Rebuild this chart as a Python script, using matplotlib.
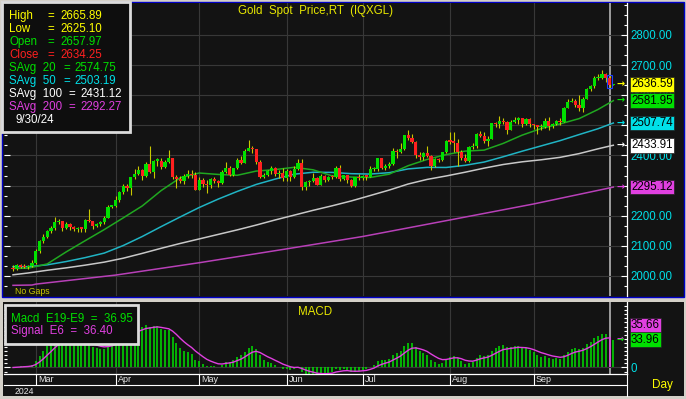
import numpy as np
import pandas as pd
import matplotlib
matplotlib.use('Agg')
import matplotlib.pyplot as plt
from matplotlib.patches import Rectangle
from matplotlib.ticker import MultipleLocator, FixedLocator

plt.rcParams['font.family'] = ['Liberation Sans', 'DejaVu Sans']

# daily bars 22 Feb - 1 Oct 2024 (1 Oct is the live bar right of the cursor)
dates = pd.bdate_range('2024-02-22', '2024-10-01')

opens = [2025, 2024, 2035, 2031, 2030, 2034,
         2044, 2083, 2115, 2128, 2148, 2159, 2179, 2182, 2158, 2174, 2162, 2155, 2160, 2157, 2186, 2181, 2165, 2172, 2178, 2194, 2230,
         2232, 2251, 2280, 2300, 2291, 2330, 2339, 2352, 2333, 2373, 2344, 2383, 2383, 2361, 2379, 2392, 2327, 2322, 2316, 2332, 2337, 2336,
         2286, 2320, 2304, 2301, 2323, 2314, 2309, 2346, 2360, 2336, 2358, 2386, 2376, 2415, 2425, 2421, 2379, 2329, 2334, 2350, 2360, 2338, 2343,
         2326, 2350, 2327, 2355, 2375, 2294, 2311, 2316, 2324, 2303, 2333, 2319, 2330, 2328, 2360, 2322, 2334, 2319, 2298, 2327,
         2326, 2332, 2330, 2356, 2356, 2392, 2359, 2364, 2371, 2415, 2411, 2422, 2469, 2459, 2445, 2400, 2396, 2409, 2398, 2364, 2387, 2384, 2410,
         2448, 2446, 2443, 2410, 2390, 2383, 2427, 2431, 2472, 2465, 2447, 2456, 2507, 2504, 2514, 2512, 2484, 2512, 2518, 2524, 2504, 2521,
         2503, 2500, 2493, 2495, 2516, 2497, 2506, 2516, 2512, 2558, 2578, 2582, 2569, 2559, 2587, 2622, 2629, 2657, 2657, 2672, 2657.97,
         2634.25]
highs = [2035, 2041, 2041, 2040, 2037, 2052,
         2088, 2119, 2141, 2152, 2165, 2195, 2189, 2184, 2180, 2175, 2167, 2164, 2163, 2188, 2222, 2184, 2177, 2184, 2198, 2235, 2236,
         2266, 2283, 2305, 2305, 2330, 2354, 2365, 2354, 2378, 2431, 2384, 2392, 2392, 2385, 2418, 2392, 2334, 2333, 2338, 2352, 2353, 2346,
         2327, 2326, 2319, 2326, 2327, 2318, 2351, 2378, 2364, 2359, 2392, 2398, 2422, 2450, 2432, 2423, 2385, 2342, 2352, 2364, 2361, 2351, 2360,
         2354, 2353, 2364, 2388, 2387, 2316, 2318, 2342, 2327, 2337, 2335, 2333, 2335, 2365, 2368, 2335, 2335, 2323, 2330, 2339,
         2336, 2335, 2365, 2363, 2393, 2393, 2372, 2380, 2425, 2423, 2440, 2469, 2483, 2471, 2447, 2412, 2412, 2431, 2402, 2390, 2393, 2413, 2451,
         2477, 2477, 2456, 2418, 2405, 2431, 2441, 2474, 2480, 2477, 2464, 2509, 2511, 2531, 2525, 2515, 2518, 2527, 2528, 2526, 2524, 2525,
         2505, 2502, 2503, 2523, 2529, 2507, 2517, 2525, 2560, 2586, 2590, 2589, 2600, 2595, 2625, 2634, 2664, 2670, 2685, 2674, 2665.89,
         2637]
lows = [2015, 2020, 2026, 2025, 2024, 2031,
        2039, 2077, 2111, 2125, 2143, 2153, 2174, 2150, 2155, 2152, 2150, 2146, 2146, 2147, 2180, 2157, 2163, 2167, 2173, 2191, 2226,
        2228, 2246, 2273, 2281, 2268, 2321, 2336, 2319, 2329, 2342, 2324, 2366, 2354, 2359, 2375, 2321, 2291, 2310, 2305, 2326, 2324, 2285,
        2285, 2297, 2277, 2292, 2308, 2297, 2306, 2342, 2333, 2332, 2354, 2372, 2375, 2414, 2408, 2373, 2325, 2326, 2333, 2340, 2332, 2324, 2314,
        2314, 2316, 2325, 2352, 2287, 2287, 2298, 2312, 2301, 2303, 2311, 2314, 2323, 2326, 2316, 2317, 2310, 2294, 2295, 2318,
        2318, 2319, 2327, 2350, 2350, 2354, 2353, 2359, 2369, 2393, 2409, 2417, 2451, 2440, 2393, 2385, 2386, 2395, 2353, 2363, 2377, 2382, 2408,
        2437, 2410, 2364, 2385, 2378, 2380, 2420, 2426, 2460, 2441, 2431, 2454, 2493, 2492, 2505, 2470, 2483, 2508, 2506, 2494, 2500, 2493,
        2489, 2472, 2484, 2491, 2485, 2492, 2500, 2500, 2510, 2556, 2576, 2561, 2546, 2545, 2586, 2613, 2624, 2651, 2655, 2643, 2625.10,
        2633]
closes = [2024, 2035, 2031, 2030, 2034, 2044,
          2083, 2115, 2128, 2148, 2159, 2179, 2182, 2158, 2174, 2162, 2155, 2160, 2157, 2186, 2181, 2165, 2172, 2178, 2194, 2230, 2232,
          2251, 2280, 2300, 2291, 2330, 2339, 2352, 2333, 2373, 2344, 2383, 2383, 2361, 2379, 2392, 2327, 2322, 2316, 2332, 2337, 2336, 2286,
          2320, 2304, 2301, 2323, 2314, 2309, 2346, 2360, 2336, 2358, 2386, 2376, 2415, 2425, 2421, 2379, 2329, 2334, 2350, 2360, 2338, 2343, 2326,
          2350, 2327, 2355, 2375, 2294, 2311, 2316, 2324, 2303, 2333, 2319, 2330, 2328, 2360, 2322, 2334, 2319, 2298, 2327, 2326,
          2332, 2330, 2356, 2356, 2392, 2359, 2364, 2371, 2415, 2411, 2422, 2469, 2459, 2445, 2400, 2396, 2409, 2398, 2364, 2387, 2384, 2410, 2448,
          2446, 2443, 2410, 2390, 2383, 2427, 2431, 2472, 2465, 2447, 2456, 2507, 2504, 2514, 2512, 2484, 2512, 2518, 2524, 2504, 2521, 2503,
          2500, 2493, 2495, 2516, 2497, 2506, 2516, 2512, 2558, 2578, 2582, 2569, 2559, 2587, 2622, 2629, 2657, 2657, 2672, 2658, 2634.25,
          2636.59]

ma_idx = [0, 4, 9, 14, 19, 24, 29, 34, 39, 44, 49, 54, 59, 64, 69, 74, 79, 84, 89, 94,
          99, 104, 109, 114, 119, 124, 129, 134, 139, 144, 149, 154, 157, 158]
savg20 = [2025, 2026, 2040, 2080, 2117.2, 2154.0, 2192.8, 2232.4, 2283.6, 2325.9, 2341.8, 2337.1,
          2334.2, 2348.2, 2353.2, 2360.7, 2352.4, 2332.3, 2328.4, 2326.9, 2338.0, 2366.1, 2386.9,
          2403.0, 2414.5, 2417.8, 2440.0, 2467.5, 2489.5, 2504.7, 2522.4, 2552.9, 2574.75, 2581.95]
savg50 = [2031, 2031, 2037, 2048, 2061, 2076, 2101, 2131, 2164, 2196, 2227.3, 2255.2,
          2280.6, 2303.8, 2321.7, 2337.9, 2344.4, 2343.8, 2339.6, 2338.3, 2342.9, 2355.4, 2360.6,
          2360.2, 2367.4, 2378.2, 2395.7, 2414.2, 2431.8, 2449.3, 2469.4, 2488.9, 2503.19, 2507.74]
savg100 = [2004, 2010, 2019, 2027, 2036, 2046, 2059, 2075, 2092, 2108, 2123, 2138,
           2153, 2169, 2186, 2202, 2218, 2233, 2249, 2267, 2285.1, 2305.3, 2320.6,
           2332.0, 2344.5, 2358.0, 2370.0, 2379.0, 2385.7, 2393.8, 2406.2, 2422.2, 2431.12, 2433.91]
ma200_idx = [0, 5, 6, 27, 49, 72, 92, 115, 137, 157, 158]
savg200 = [1969, 1970, 1973, 2003, 2044, 2090, 2131, 2186, 2239, 2292.27, 2295.12]

price_ticks = [2000, 2100, 2200, 2300, 2400, 2500, 2600, 2700, 2800]
hidden_ticks = [2300, 2500]   # these labels sit fully under the value tags
month_labels = ['Mar', 'Apr', 'May', 'Jun', 'Jul', 'Aug', 'Sep']

legend_names = ['High', 'Low', 'Open', 'Close', 'SAvg  20', 'SAvg  50', 'SAvg  100', 'SAvg  200']
legend_vals = [2665.89, 2625.10, 2657.97, 2634.25, 2574.75, 2503.19, 2431.12, 2292.27]
cursor_date = '9/30/24'
tag_vals = [2636.59, 2581.95, 2507.74, 2433.91, 2295.12]
macd_legend = [36.95, 36.40]
macd_tags = [35.66, 33.96]

# colours
BG = '#131313'
GRID = '#383838'
YEL = '#ffff00'
GRN = '#00e000'
RED = '#ff2020'
CYN = '#00e0e8'
WHT = '#ffffff'
MAG = '#e040e0'
WICK = '#c8c800'

W, H = 686, 399
fig = plt.figure(figsize=(W / 100, H / 100), dpi=100, facecolor='#d4d0c8')


def box(x0, y0, x1, y1):
    # pixel rectangle (origin top-left) -> figure fraction
    return [x0 / W, 1 - y1 / H, (x1 - x0) / W, (y1 - y0) / H]


bg = fig.add_axes([0, 0, 1, 1], zorder=0)
bg.set_xlim(0, W)
bg.set_ylim(H, 0)
bg.axis('off')
bg.add_patch(Rectangle((2, 2), 682, 295, fc=BG, ec='#0000c8', lw=1))
bg.add_patch(Rectangle((3, 302), 681, 94, fc=BG, ec='none'))
bg.plot([4, 627], [385, 385], color=WHT, lw=0.8)
bg.plot([627, 627], [374, 396], color=WHT, lw=0.8)

ax = fig.add_axes(box(4, 3, 627, 296), zorder=1)
mx = fig.add_axes(box(4, 302, 627, 374), zorder=1)
ov = fig.add_axes([0, 0, 1, 1], zorder=5)
ov.set_xlim(0, W)
ov.set_ylim(H, 0)
ov.axis('off')

x = np.arange(len(closes))
o = np.array(opens, dtype=float)
c = np.array(closes, dtype=float)
month_idx = [i for i in range(1, len(dates) - 1) if dates[i].month != dates[i - 1].month]

# ---------------- price panel ----------------
ax.set_facecolor(BG)
ax.set_xlim(-2.37, 161.6)
ax.set_ylim(1933.6, 2906.1)
ax.axvline(157, color='#a8a8a8', lw=1.3, zorder=1)
ax.plot(ma200_idx, savg200, color='#b840b8', lw=1.1, zorder=2)
ax.plot(ma_idx, savg100, color='#c8c8c8', lw=1.1, zorder=2)
ax.plot(ma_idx, savg50, color='#20b4c4', lw=1.1, zorder=2)
ax.plot(ma_idx, savg20, color='#20a820', lw=1.1, zorder=2)

ax.vlines(x, lows, highs, color=WICK, lw=0.8, zorder=3)
body_h = np.maximum(np.abs(c - o), 4)
ax.bar(x, body_h, bottom=np.minimum(o, c), width=0.86,
       color=np.where(c >= o, GRN, RED), lw=0, zorder=4)
ax.add_patch(Rectangle((156.45, lows[157]), 1.1, highs[157] - lows[157],
                       fill=False, ec='#2040ff', lw=0.8, zorder=5))

ax.set_xticks(month_idx)
ax.tick_params(axis='x', bottom=False, labelbottom=False)
ax.yaxis.set_major_locator(FixedLocator(price_ticks))
ax.yaxis.set_minor_locator(MultipleLocator(100 / 3))
ax.set_yticklabels(['' if v in hidden_ticks else f'{v:.2f}' for v in price_ticks])
ax.tick_params(axis='y', which='both', left=True, right=True, labelleft=False, labelright=True,
               direction='in', color=WHT, labelcolor=CYN, labelsize=8.3, pad=2.5)
ax.tick_params(axis='y', which='major', length=4.5, width=0.8)
ax.tick_params(axis='y', which='minor', length=2.5, width=0.8)
ax.grid(True, which='major', color=GRID, lw=0.8)
for s in ['left', 'top', 'bottom']:
    ax.spines[s].set_visible(False)
ax.spines['right'].set_color(WHT)
ax.spines['right'].set_linewidth(0.9)

ax.text(0.5, 0.971, 'Gold  Spot  Price,RT  (IQXGL)', transform=ax.transAxes,
        ha='center', va='center', color='#e8e800', fontsize=8.3)

tag_cols = [YEL, GRN, CYN, WHT, MAG]
for v, col in zip(tag_vals, tag_cols):
    ax.annotate('\u2192', xy=(0.989, v), xycoords=('axes fraction', 'data'), ha='center', va='center',
                color=col, fontsize=7, fontweight='bold', family='DejaVu Sans', annotation_clip=False)
    ax.annotate(f'{v:.2f}', xy=(1, v), xycoords=('axes fraction', 'data'), xytext=(4, 0),
                textcoords='offset pixels', ha='left', va='center', color='black', fontsize=8.3,
                bbox=dict(boxstyle='square,pad=0.12', fc=col, ec='#202020', lw=0.5),
                annotation_clip=False, zorder=6)

# ---------------- MACD panel ----------------
cs = pd.Series(closes, dtype=float)
macd = cs.ewm(span=9, adjust=False).mean() - cs.ewm(span=19, adjust=False).mean()
signal = macd.ewm(span=6, adjust=False).mean()

mx.set_facecolor(BG)
mx.set_xlim(-2.37, 161.6)
mx.set_ylim(-7.93, 79.9)
mx.axvline(157, color='#a8a8a8', lw=1.3, zorder=1)
bar_cols = [MAG if i == 157 else GRN for i in x]
mx.vlines(x, 0, macd, colors=bar_cols, lw=1.1, zorder=2)
mx.plot(x[:158], signal[:158], color=MAG, lw=1.0, zorder=3)

mx.set_xticks(month_idx)
mx.tick_params(axis='x', direction='out', length=8, width=0.8, color=WHT, labelbottom=False)
mx.yaxis.set_major_locator(FixedLocator([0]))
mx.yaxis.set_minor_locator(MultipleLocator(5))
mx.set_yticklabels(['0'])
mx.tick_params(axis='y', which='both', left=True, right=True, labelleft=False, labelright=True,
               direction='in', color=WHT, labelcolor=CYN, labelsize=8.3, pad=2.5)
mx.tick_params(axis='y', which='major', length=4.5, width=0.8)
mx.tick_params(axis='y', which='minor', length=2.5, width=0.8)
mx.grid(True, which='major', color=GRID, lw=0.8)
for s in ['left', 'top']:
    mx.spines[s].set_visible(False)
for s in ['right', 'bottom']:
    mx.spines[s].set_color(WHT)
    mx.spines[s].set_linewidth(0.9)

mx.text(0.5, 0.86, 'MACD', transform=mx.transAxes, ha='center', va='center',
        color='#e8e800', fontsize=8.3)

for i, lab in zip(month_idx, month_labels):
    mx.annotate(lab, xy=(i, 0), xycoords=('data', 'axes fraction'), xytext=(2, -6),
                textcoords='offset pixels', ha='left', va='center', color='#e8e8e8',
                fontsize=6.5, annotation_clip=False)

mcols = [MAG, GRN]
moffs = [-13, 0]
for v, col, off in zip(macd_tags, mcols, moffs):
    mx.annotate('\u2192', xy=(0.989, v), xycoords=('axes fraction', 'data'), ha='center', va='center',
                color=col, fontsize=6, fontweight='bold', family='DejaVu Sans', annotation_clip=False)
    mx.annotate(f'{v:.2f}', xy=(1, v), xycoords=('axes fraction', 'data'), xytext=(4, -off),
                textcoords='offset pixels', ha='left', va='center', color='black', fontsize=8.3,
                bbox=dict(boxstyle='square,pad=0.12', fc=col, ec='#202020', lw=0.5),
                annotation_clip=False, zorder=6)

# ---------------- overlays in pixel space ----------------
ov.add_patch(Rectangle((1.5, 1.5), 128, 130, fc='#0e0e0e', ec='#dcdcdc', lw=2.0))
leg_cols = [YEL, YEL, GRN, RED, GRN, CYN, WHT, MAG]
eq_x = [47, 47, 47, 47, 63, 63, 68, 68]
val_x = [60, 60, 60, 60, 74, 74, 80, 80]
for k, (nm, v, col) in enumerate(zip(legend_names, legend_vals, leg_cols)):
    yy = 15.7 + k * 13.0
    ov.text(9, yy, nm, color=col, fontsize=8.3, va='center', ha='left')
    ov.text(eq_x[k], yy, '=', color=col, fontsize=8.3, va='center', ha='left')
    ov.text(val_x[k], yy, f'{v:.2f}', color=col, fontsize=8.3, va='center', ha='left')
ov.text(16, 119.7, cursor_date, color=WHT, fontsize=8.3, va='center', ha='left')

ov.add_patch(Rectangle((4.5, 304.5), 133, 39, fc='#0e0e0e', ec='#dcdcdc', lw=2.0))
ov.text(11, 318.5, f'Macd  E19-E9  =  {macd_legend[0]:.2f}', color=GRN, fontsize=8.3, va='center')
ov.text(11, 331, f'Signal  E6  =  {macd_legend[1]:.2f}', color=MAG, fontsize=8.3, va='center')

ov.text(15, 292, 'No Gaps', color='#c8c800', fontsize=6.3, va='center')
ov.text(15, 391, '2024', color='#e8e8e8', fontsize=6.2, va='center')
ov.text(652, 385, 'Day', color=YEL, fontsize=8.5, va='center')

fig.savefig('out.png', dpi=100, facecolor=fig.get_facecolor())
